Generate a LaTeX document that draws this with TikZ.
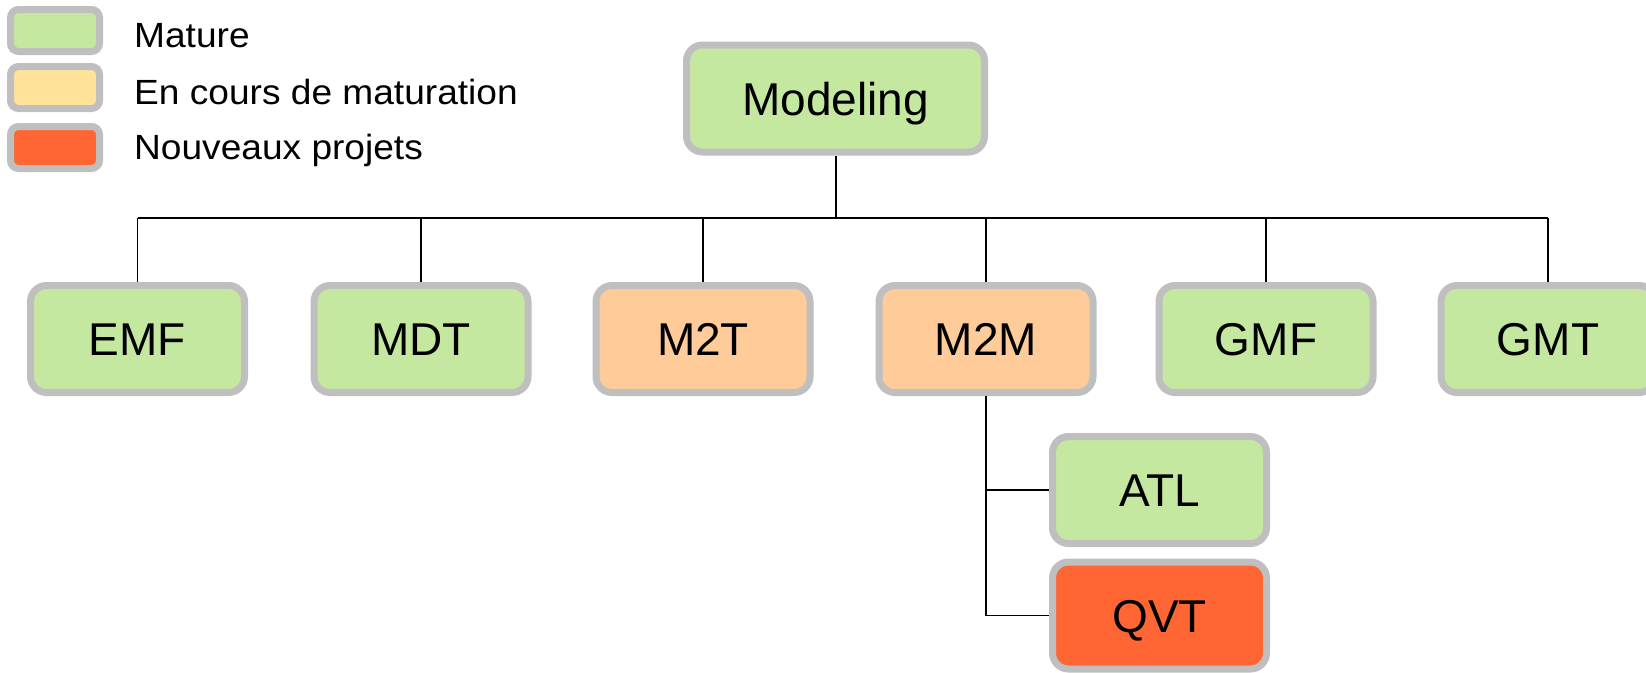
\documentclass[tikz,border=0pt]{standalone}
\usepackage{fontspec}
\setmainfont{Liberation Sans}
\newfontfamily\legendefont[FakeStretch=1.06]{Liberation Sans}
\definecolor{mature}{HTML}{C5E8A0}
\definecolor{encours}{HTML}{FECB99}
\definecolor{encourslegende}{HTML}{FFE39B}
\definecolor{nouveau}{HTML}{FF6633}
\definecolor{cadre}{HTML}{BFBFBF}
\begin{document}
\begin{tikzpicture}
  [x=1pt,y=-1pt,
   projet/.style={draw=cadre,line width=7pt,rounded corners=16pt,
     minimum width=214pt,minimum height=107pt,inner sep=0pt,
     text height=33pt,text depth=0pt,font=\fontsize{46}{50}\selectfont},
   legende/.style={draw=cadre,line width=7pt,rounded corners=8pt,
     minimum width=89pt,minimum height=42pt,inner sep=0pt},
   etiquette/.style={anchor=base west,inner sep=0pt,font=\legendefont\fontsize{35}{38}\selectfont},
   lien/.style={line width=1.3pt}]
  \useasboundingbox (0,0) rectangle (1646,672);
  \clip (0,0) rectangle (1646,672);
  % legende
  \node[legende,fill=mature] (lmature) at (55,30.5) {};
  \node[legende,fill=encourslegende] (lencours) at (55,87.5) {};
  \node[legende,fill=nouveau] (lnouveau) at (55,147.5) {};
  \node[etiquette] (tmature) at (134,47) {Mature};
  \node[etiquette] (tencours) at (134,104) {En cours de maturation};
  \node[etiquette] (tnouveau) at (134,159.5) {Nouveaux projets};
  % projets
  \node[projet,fill=mature,minimum width=298pt] (modeling) at (835.5,98.5) {Modeling};
  \node[projet,fill=mature] (emf) at (137.5,339) {EMF};
  \node[projet,fill=mature] (mdt) at (421,339) {MDT};
  \node[projet,fill=encours] (m2t) at (703,339) {M2T};
  \node[projet,fill=encours] (m2m) at (986,339) {M2M};
  \node[projet,fill=mature] (gmf) at (1266,339) {GMF};
  \node[projet,fill=mature] (gmt) at (1548,339) {GMT};
  \node[projet,fill=mature] (atl) at (1159.5,490) {ATL};
  \node[projet,fill=nouveau] (qvt) at (1159.5,615.5) {QVT};
  % liens
  \coordinate (bus) at (0,218);
  \draw[lien,line width=2pt] (modeling.south) -- (modeling |- bus);
  \draw[lien] (emf |- bus) -- (gmt |- bus);
  \foreach \n in {emf,mdt,m2t,m2m,gmf,gmt}
    \draw[lien] (\n |- bus) -- (\n.north);
  \draw[lien] (m2m.south) |- (qvt.west);
  \draw[lien] (m2m.south |- atl.west) -- (atl.west);
\end{tikzpicture}
\end{document}
